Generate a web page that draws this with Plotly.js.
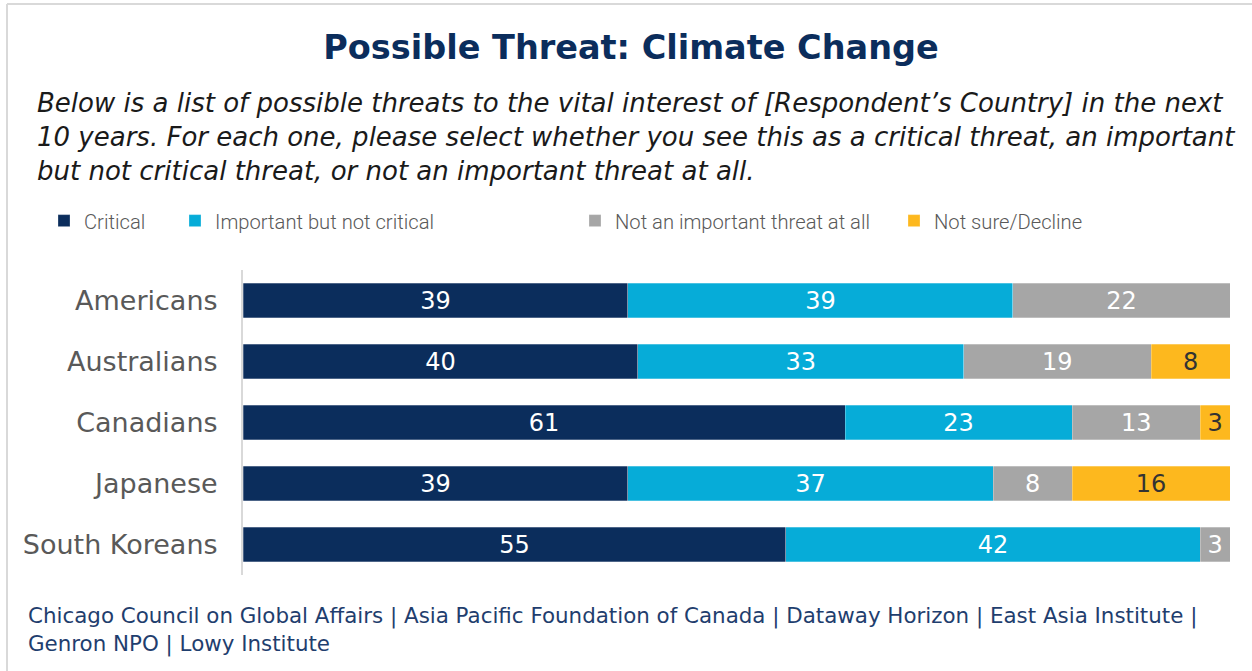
<!DOCTYPE html>
<html>
<head>
<meta charset="utf-8">
<script src="https://cdn.plot.ly/plotly-3.0.1.min.js"></script>
<style>html,body{margin:0;padding:0;background:#fff;}#chart{width:1252px;height:671px;}</style>
</head>
<body>
<div id="chart"></div>
<script>
const categories = ['Americans', 'Australians', 'Canadians', 'Japanese', 'South Koreans'];
const seriesNames = ['Critical', 'Important but not critical', 'Not an important threat at all', 'Not sure/Decline'];
const critical = [39, 40, 61, 39, 55];
const important = [39, 33, 23, 37, 42];
const notImportant = [22, 19, 13, 8, 3];
const notSure = [null, 8, 3, 16, null];
const titleText = 'Possible Threat: Climate Change';
const subtitleText = 'Below is a list of possible threats to the vital interest of [Respondent’s Country] in the next<br>10 years. For each one, please select whether you see this as a critical threat, an important<br>but not critical threat, or not an important threat at all.';
const footerText = 'Chicago Council on Global Affairs | Asia Pacific Foundation of Canada | Dataway Horizon | East Asia Institute |<br>Genron NPO | Lowy Institute';

const colors = ['#0b2d5c', '#06acd8', '#a6a6a6', '#fdb81e'];
const textColors = ['#ffffff', '#ffffff', '#ffffff', '#333333'];
const FONT = 'DejaVu Sans, Noto Sans, sans-serif';
const LEGEND_FONT = 'Roboto, Noto Sans, sans-serif';

// plot area geometry in pixels
const L = 243, R = 1230, T = 270, B = 575, W = 1252, H = 671;
const fx = p => (p - L) / (R - L);
const fy = p => (B - p) / (B - T);

const values = [critical, important, notImportant, notSure];
const legendIds = ['legend', 'legend2', 'legend3', 'legend4'];
const traces = values.map((v, i) => ({
  type: 'bar',
  orientation: 'h',
  name: seriesNames[i],
  y: categories,
  x: v,
  marker: {color: colors[i], line: {width: 0.6, color: 'rgba(255,255,255,0.45)'}},
  text: v.map(d => d == null ? '' : String(d)),
  textposition: 'inside',
  insidetextanchor: 'middle',
  textangle: 0,
  constraintext: 'none',
  textfont: {family: FONT, size: 24, color: textColors[i]},
  hoverinfo: 'name+x',
  legend: legendIds[i]
}));

const legendTextX = [81, 212, 612, 931];
const legendCommon = (i) => ({
  orientation: 'h',
  x: fx(legendTextX[i] - 37),
  xanchor: 'left',
  y: fy(221),
  yanchor: 'middle',
  bgcolor: 'rgba(0,0,0,0)',
  borderwidth: 0,
  font: {family: LEGEND_FONT, size: 20.2, color: '#595959', weight: 300},
  itemclick: false,
  itemdoubleclick: false
});

const layout = {
  width: W,
  height: H,
  margin: {l: L, r: W - R, t: T, b: H - B, pad: 0},
  paper_bgcolor: '#ffffff',
  plot_bgcolor: '#ffffff',
  barmode: 'stack',
  bargap: 0.43,
  showlegend: true,
  title: {
    text: '<b>' + titleText + '</b>',
    font: {family: FONT, size: 33.5, color: '#0b2d5c'},
    x: 631 / W,
    xanchor: 'center',
    xref: 'container',
    y: 1 - 47 / H,
    yanchor: 'middle',
    yref: 'container'
  },
  xaxis: {
    range: [0, 100],
    showgrid: false,
    zeroline: false,
    showticklabels: false,
    showline: false,
    fixedrange: true
  },
  yaxis: {
    type: 'category',
    autorange: 'reversed',
    showgrid: false,
    zeroline: false,
    showline: true,
    linecolor: '#d9d9d9',
    linewidth: 2,
    ticks: '',
    ticklabelstandoff: 18,
    tickfont: {family: FONT, size: 27, color: '#595959'},
    fixedrange: true
  },
  annotations: [
    {
      text: '<i>' + subtitleText + '</i>',
      xref: 'paper', yref: 'paper',
      x: fx(35), y: fy(137),
      xanchor: 'left', yanchor: 'middle',
      align: 'left',
      showarrow: false,
      font: {family: FONT, size: 26, color: '#1a1a1a'}
    },
    {
      text: footerText,
      xref: 'paper', yref: 'paper',
      x: fx(26), y: fy(629.5),
      xanchor: 'left', yanchor: 'middle',
      align: 'left',
      showarrow: false,
      font: {family: FONT, size: 21.4, color: '#1f3e6e'}
    }
  ],
  shapes: [
    {type: 'line', xref: 'paper', yref: 'paper', x0: fx(7), x1: fx(7), y0: fy(4), y1: fy(H + 5), line: {color: '#d9d9d9', width: 2}},
    {type: 'line', xref: 'paper', yref: 'paper', x0: fx(7), x1: fx(W + 5), y0: fy(4), y1: fy(4), line: {color: '#d9d9d9', width: 2}}
  ]
};
legendIds.forEach((id, i) => { layout[id] = legendCommon(i); });

Plotly.newPlot('chart', traces, layout, {displayModeBar: false, staticPlot: true});
</script>
</body>
</html>
